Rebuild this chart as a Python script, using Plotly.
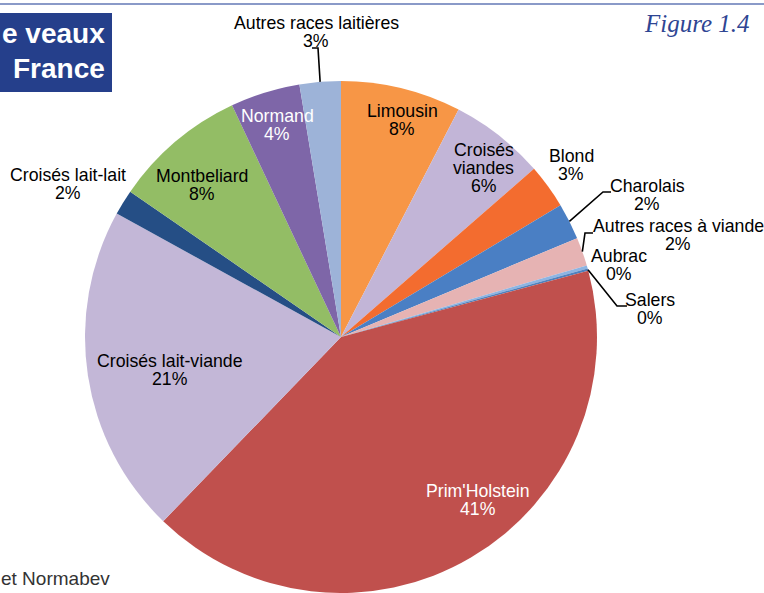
import math
import plotly.graph_objects as go

# ---------------- data ----------------
labels = ["Limousin", "Croisés viandes", "Blond", "Charolais", "Autres races à viande",
          "Aubrac", "Salers", "Prim'Holstein", "Croisés lait-viande", "Croisés lait-lait",
          "Montbeliard", "Normand", "Autres races laitières"]
values = [7.6, 6.0, 2.8, 2.3, 1.8, 0.2, 0.15, 41.4, 20.8, 1.6, 8.4, 4.4, 2.6]
display_names = [["Limousin"], ["Croisés", "viandes"], ["Blond"], ["Charolais"],
                 ["Autres races à viande"], ["Aubrac"], ["Salers"], ["Prim'Holstein"],
                 ["Croisés lait-viande"], ["Croisés lait-lait"], ["Montbeliard"],
                 ["Normand"], ["Autres races laitières"]]

# ---------------- styles ----------------
colors = ["#F79646", "#C2B5D7", "#F36C2F", "#4A7FC4", "#E6B3B3",
          "#8DB4E2", "#4F81BD", "#C0504D", "#C3B7D7", "#254E85",
          "#93BD65", "#7E66A8", "#9DB3D8"]
text_colors = ["black", "black", "black", "black", "black", "black", "black", "white",
               "black", "black", "black", "white", "black"]
# label block centres in pixels (layout)
label_pos = [(402, 120), (484, 168), (571, 165), (647, 195), (678, 235), (619, 265),
             (650, 309), (478, 500), (170, 370), (68, 184), (202, 185), (277, 125),
             (316, 32)]
# leader lines: slice index -> list of bend/end points (pixels)
leaders = {3: [(603, 192), (611, 192)],
           4: [(585, 233), (593, 233)],
           6: [(617, 306), (627, 306)],
           12: [(318, 48), (312, 48)]}

W, H = 764, 593
FONT = "Liberation Sans, Arial, sans-serif"
FS = 17.7
PITCH = 18

# pie geometry (pixels)
cx, R = 341, 256
cy = H - R
dom_x = [(cx - R) / W, (cx + R) / W]
dom_y = [0, (2 * R) / H]

def px(x, y):
    return x / W, 1 - y / H

fig = go.Figure(go.Pie(
    labels=labels, values=values, sort=False, direction="clockwise", rotation=0,
    marker=dict(colors=colors, line=dict(width=0)),
    textinfo="none", hoverinfo="label+percent", showlegend=False,
    domain=dict(x=dom_x, y=dom_y),
))

total = sum(values)
annotations = []
shapes = []
cum = 0.0
for i, (v, names) in enumerate(zip(values, display_names)):
    pct = f"{round(v / total * 100)}%"
    lines = names + [pct]
    bx, by = label_pos[i]
    n = len(lines)
    for k, t in enumerate(lines):
        yy = by + (k - (n - 1) / 2) * PITCH
        xp, yp = px(bx, yy)
        annotations.append(dict(x=xp, y=yp, xref="paper", yref="paper", text=t,
                                showarrow=False, xanchor="center", yanchor="middle",
                                borderpad=0,
                                font=dict(family=FONT, size=FS, color=text_colors[i])))
    frac = (cum + v / 2) / total
    cum += v
    if i in leaders:
        th = 2 * math.pi * frac
        ex, ey = cx + R * math.sin(th), cy - R * math.cos(th)
        pts = [(ex, ey)] + leaders[i]
        path = ""
        for j, (a, b) in enumerate(pts):
            xp, yp = px(a, b)
            path += ("M " if j == 0 else " L ") + f"{xp:.5f} {yp:.5f}"
        shapes.append(dict(type="path", path=path, xref="paper", yref="paper",
                           line=dict(color="black", width=1.6)))

# top rule
shapes.append(dict(type="line", xref="paper", yref="paper", x0=0, x1=1,
                   y0=1 - 4 / H, y1=1 - 4 / H, line=dict(color="#8A9AC8", width=2)))
# title box
shapes.append(dict(type="rect", xref="paper", yref="paper", x0=0, x1=112 / W,
                   y0=1 - 92 / H, y1=1 - 13 / H, fillcolor="#253F8B", line=dict(width=0)))
for t, yy in [("e veaux", 33), ("France", 69)]:
    annotations.append(dict(x=106 / W, y=1 - yy / H, xref="paper", yref="paper",
                            text=f"<b>{t}</b>", showarrow=False, xanchor="right",
                            yanchor="middle", borderpad=0,
                            font=dict(family=FONT, size=28, color="white")))
annotations.append(dict(x=751 / W, y=1 - 24 / H, xref="paper", yref="paper",
                        text="<i>Figure 1.4</i>", showarrow=False, xanchor="right",
                        yanchor="middle", borderpad=0,
                        font=dict(family="Liberation Serif, serif", size=25, color="#2E4593")))
annotations.append(dict(x=111 / W, y=1 - 578 / H, xref="paper", yref="paper",
                        text="et Normabev", showarrow=False, xanchor="right",
                        yanchor="middle", borderpad=0,
                        font=dict(family=FONT, size=19, color="#333333")))

fig.update_layout(width=W, height=H, margin=dict(l=0, r=0, t=0, b=0),
                  paper_bgcolor="white", plot_bgcolor="white",
                  annotations=annotations, shapes=shapes)
fig.write_html("out.html", config={"displayModeBar": False},
               post_script="document.body.style.margin='0';document.body.style.overflow='hidden';")
